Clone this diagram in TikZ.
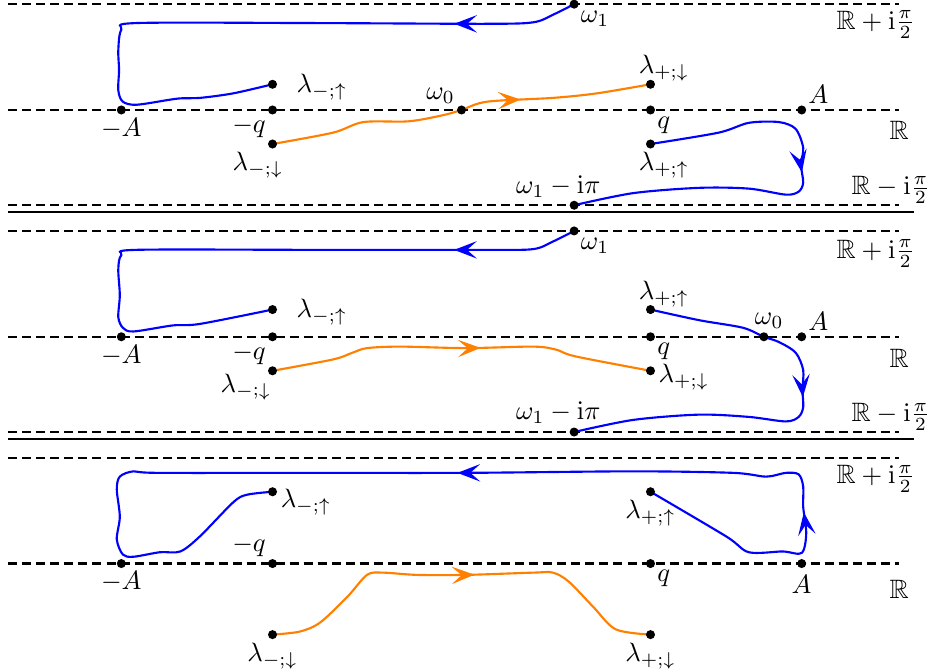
\documentclass[tikz,border=0pt]{standalone}
\usepackage{amsmath,amssymb}
\usetikzlibrary{arrows.meta,decorations.markings,backgrounds}

\begin{document}
\begin{tikzpicture}[
    pnt/.style={circle, fill, inner sep=0pt, minimum size=3.4pt},
    every label/.style={inner sep=1pt},
    axis/.style={thick, dash pattern=on 3.4pt off 1.9pt},
    cut/.style={thick},
    bpath/.style={thick, blue},
    opath/.style={thick, orange},
    arrowat/.style={postaction={decorate, decoration={markings,
        mark=at position #1 with {\arrow{Stealth[length=3mm,width=2.3mm,inset=1.3mm]}}}}}]
  \useasboundingbox (-6.105,-7.434) rectangle (6.224,1.455);

  % first strip
  \node[pnt, label=below:$-A$] (mA-a) at (-4.5,0) {};
  \node[pnt, label=below left:$-q$] (mq-a) at (-2.5,0) {};
  \node[pnt, label={[label distance=6pt,yshift=-1pt]right:$\lambda_{-;\uparrow}$}] (lmu-a) at (-2.5,0.34) {};
  \node[pnt, label={[xshift=-5.5pt]below:$\lambda_{-;\downarrow}$}] (lmd-a) at (-2.5,-0.45) {};
  \node[pnt, label=above left:$\omega_0$] (w0-a) at (0,0) {};
  \node[pnt, label=below right:$\omega_1$] (w1-a) at (1.49,1.4) {};
  \node[pnt, label={[xshift=-6pt]above:$\omega_1-\mathrm{i}\pi$}] (w1m-a) at (1.49,-1.26) {};
  \node[pnt, label={[xshift=5pt,yshift=-2pt]above:$\lambda_{+;\downarrow}$}] (lpd-a) at (2.5,0.34) {};
  \node[pnt, label=below right:$q$] (q-a) at (2.5,0) {};
  \node[pnt, label={[xshift=5pt]below:$\lambda_{+;\uparrow}$}] (lpu-a) at (2.5,-0.45) {};
  \node[pnt, label=above right:$A$] (A-a) at (4.5,0) {};
  \node (Rp-a) at (5.48,1.13) {$\mathbb{R}+\mathrm{i}\tfrac{\pi}{2}$};
  \node (R-a) at (5.79,-0.27) {$\mathbb{R}$};
  \node (Rm-a) at (5.68,-1.06) {$\mathbb{R}-\mathrm{i}\tfrac{\pi}{2}$};
  \begin{scope}[on background layer]
    \draw[axis] (-6,1.4) -- (5.79,1.4);
    \draw[axis] (-6,0) -- (5.79,0);
    \draw[axis] (-6,-1.26) -- (5.79,-1.26);
    \draw[cut] (-6,-1.35) -- (5.99,-1.35);
    \draw[bpath, arrowat=0.18] plot[smooth] coordinates {(w1-a) (1.21,1.26) (0.95,1.16)
      (0.34,1.14) (-2,1.15) (-4.3,1.15) (-4.5,1.06) (-4.54,0.79) (-4.53,0.53) (-4.54,0.26)
      (-4.48,0.11) (-4.29,0.07) (-3.76,0.15) (-3.46,0.16) (-3.02,0.22) (lmu-a)};
    \draw[bpath, arrowat=0.44] plot[smooth] coordinates {(lpu-a) (3.4,-0.3) (3.8,-0.17)
      (4.2,-0.16) (4.42,-0.25) (4.52,-0.5) (4.49,-0.72) (4.52,-0.96)
      (4.46,-1.08) (4.29,-1.12) (3.8,-1.04) (3.14,-1.03) (2.27,-1.1) (w1m-a)};
    \draw[opath, arrowat=0.66] plot[smooth] coordinates {(lmd-a) (-1.7,-0.3)
      (-1.3,-0.16) (-0.7,-0.15) (-0.25,-0.07) (w0-a) (0.34,0.11)
      (1.21,0.16) (1.79,0.22) (lpd-a)};
  \end{scope}

  % second strip
  \begin{scope}[yshift=-3cm]
    \node[pnt, label=below:$-A$] (mA-b) at (-4.5,0) {};
    \node[pnt, label=below left:$-q$] (mq-b) at (-2.5,0) {};
    \node[pnt, label={[label distance=6pt,yshift=-1pt]right:$\lambda_{-;\uparrow}$}] (lmu-b) at (-2.5,0.36) {};
    \node[pnt, label={[xshift=2pt,yshift=1.5pt]below left:$\lambda_{-;\downarrow}$}] (lmd-b) at (-2.5,-0.45) {};
    \node[pnt, label=below right:$\omega_1$] (w1-b) at (1.49,1.4) {};
    \node[pnt, label={[xshift=-6pt]above:$\omega_1-\mathrm{i}\pi$}] (w1m-b) at (1.49,-1.26) {};
    \node[pnt, label={[xshift=5pt,yshift=-2pt]above:$\lambda_{+;\uparrow}$}] (lpu-b) at (2.5,0.36) {};
    \node[pnt, label=below right:$q$] (q-b) at (2.5,0) {};
    \node[pnt, label={[yshift=-2.5pt]right:$\lambda_{+;\downarrow}$}] (lpd-b) at (2.5,-0.45) {};
    \node[pnt, label={[xshift=2pt]above:$\omega_0$}] (w0-b) at (4,0) {};
    \node[pnt, label=above right:$A$] (A-b) at (4.5,0) {};
    \node (Rp-b) at (5.48,1.1) {$\mathbb{R}+\mathrm{i}\tfrac{\pi}{2}$};
    \node (R-b) at (5.79,-0.28) {$\mathbb{R}$};
    \node (Rm-b) at (5.68,-1.06) {$\mathbb{R}-\mathrm{i}\tfrac{\pi}{2}$};
    \begin{scope}[on background layer]
      \draw[axis] (-6,1.4) -- (5.79,1.4);
      \draw[axis] (-6,0) -- (5.79,0);
      \draw[axis] (-6,-1.26) -- (5.79,-1.26);
      \draw[cut] (-6,-1.35) -- (5.99,-1.35);
      \draw[bpath, arrowat=0.18] plot[smooth] coordinates {(w1-b) (1.21,1.26) (0.95,1.16)
        (0.34,1.15) (-2,1.15) (-4.3,1.15) (-4.5,1.08) (-4.54,0.89) (-4.52,0.55) (-4.54,0.26)
        (-4.48,0.12) (-4.34,0.07) (-3.82,0.15) (-3.46,0.17) (lmu-b)};
      \draw[bpath, arrowat=0.445] plot[smooth] coordinates {(lpu-b) (3.14,0.22) (3.72,0.12)
        (w0-b) (4.2,-0.07) (4.42,-0.21) (4.52,-0.44) (4.51,-0.7) (4.52,-0.93) (4.46,-1.06)
        (4.29,-1.12) (3.8,-1.06) (3.14,-1.03) (2.27,-1.1) (w1m-b)};
      \draw[opath, arrowat=0.55] plot[smooth] coordinates {(lmd-b) (-1.7,-0.3) (-1.44,-0.21)
        (-1.25,-0.15) (-0.81,-0.13) (0.06,-0.15) (0.95,-0.13) (1.25,-0.17) (1.51,-0.26)
        (lpd-b)};
    \end{scope}
  \end{scope}

  % third strip
  \begin{scope}[yshift=-6cm]
    \node[pnt, label=below:$-A$] (mA-c) at (-4.5,0) {};
    \node[pnt, label=above left:$-q$] (mq-c) at (-2.5,0) {};
    \node[pnt, label={[yshift=-4pt]right:$\lambda_{-;\uparrow}$}] (lmu-c) at (-2.5,0.95) {};
    \node[pnt, label=below:$\lambda_{-;\downarrow}$] (lmd-c) at (-2.5,-0.94) {};
    \node[pnt, label=below:$\lambda_{+;\uparrow}$] (lpu-c) at (2.5,0.95) {};
    \node[pnt, label=below right:$q$] (q-c) at (2.5,0) {};
    \node[pnt, label=below:$\lambda_{+;\downarrow}$] (lpd-c) at (2.5,-0.94) {};
    \node[pnt, label={[label distance=1.5pt]below:$A$}] (A-c) at (4.5,0) {};
    \node (Rp-c) at (5.48,1.12) {$\mathbb{R}+\mathrm{i}\tfrac{\pi}{2}$};
    \node (R-c) at (5.79,-0.34) {$\mathbb{R}$};
    \begin{scope}[on background layer]
      \draw[axis] (-6,1.4) -- (5.79,1.4);
      \draw[axis] (-6,0) -- (5.79,0);
      \draw[bpath, arrowat=0.178, arrowat=0.5] plot[smooth] coordinates {(lpu-c) (3.5,0.36)
        (3.8,0.15) (4.25,0.16) (4.5,0.14) (4.56,0.4) (4.52,0.75)
        (4.52,1.02) (4.46,1.18) (4.29,1.2) (4.03,1.15) (3.59,1.2) (2.27,1.22) (0.06,1.2)
        (-2,1.2) (-4.03,1.2) (-4.34,1.22) (-4.52,1.15) (-4.56,0.98) (-4.52,0.62)
        (-4.56,0.32) (-4.48,0.12) (-4.34,0.09) (-3.99,0.15) (-3.72,0.16) (-3.46,0.36)
        (-3.02,0.81) (-2.84,0.91) (lmu-c)};
      \draw[opath, arrowat=0.53] plot[smooth] coordinates {(lmd-c) (-2.14,-0.9) (-1.87,-0.78)
        (-1.51,-0.44) (-1.25,-0.15) (-1.04,-0.12) (-0.59,-0.15) (0.06,-0.15) (0.95,-0.12)
        (1.21,-0.12) (1.42,-0.24) (1.74,-0.57) (2.04,-0.87) (lpd-c)};
    \end{scope}
  \end{scope}
\end{tikzpicture}
\end{document}
